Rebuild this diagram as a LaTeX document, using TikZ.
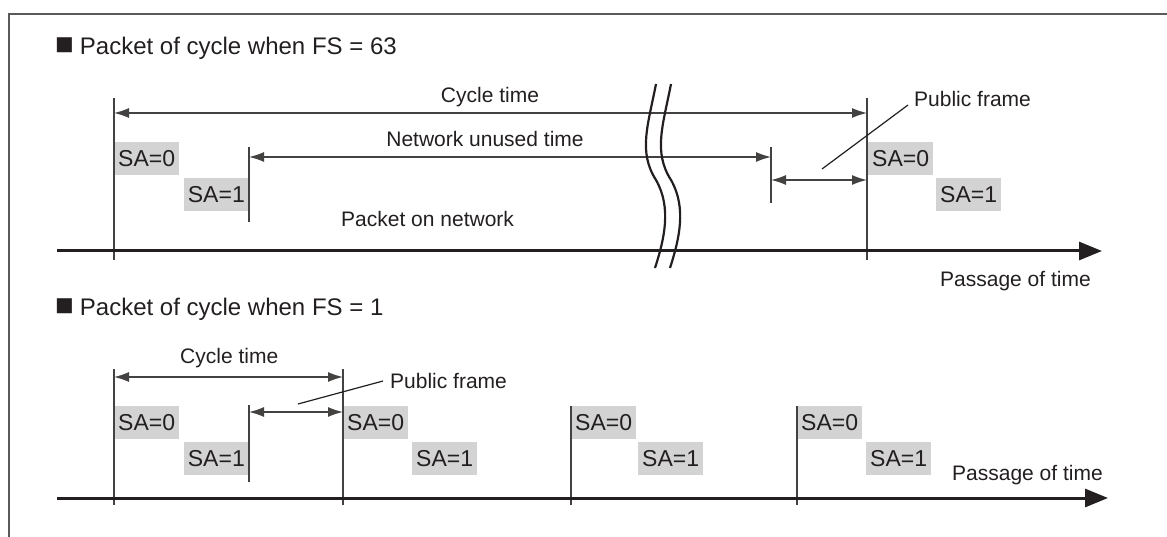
\documentclass[tikz,border=0pt]{standalone}
\usepackage{fontspec}
\setmainfont{Liberation Sans}
\usetikzlibrary{arrows.meta}
\definecolor{ink}{HTML}{231F20}
\definecolor{boxgray}{HTML}{D3D3D3}
\definecolor{framegray}{HTML}{5A5A5A}
\newcommand{\hsq}{{\fontsize{31}{28}\selectfont ■}\kern6pt}
\begin{document}
\begin{tikzpicture}[x=1pt,y=-1pt,
  lbl/.style={font=\fontsize{21}{25}\selectfont, text=ink, inner sep=0pt},
  head/.style={font=\fontsize{24}{28}\selectfont, text=ink, inner sep=0pt, anchor=base west},
  sabox/.style={fill=boxgray, font=\fontsize{23}{27}\selectfont, text=ink, inner xsep=4pt, inner ysep=0pt, minimum height=33pt},
  tick/.style={draw=ink!85, line width=1.3pt},
  dimline/.style={draw=ink!85, line width=1.3pt, {Latex[length=15pt,width=10pt]}-{Latex[length=15pt,width=10pt]}},
  leader/.style={draw=ink, line width=1.2pt},
  axis/.style={draw=ink, line width=3pt, -{Triangle[length=23pt,width=18pt]}},
  brk/.style={draw=ink, line width=2.2pt},
]
\useasboundingbox (0,0) rectangle (1167,537);
% frame
\draw[framegray, line width=1.5pt] (9,537) -- (9,14) -- (1167,14);

% ===== top section (FS = 63) =====
\node[head] (h1) at (55,55) {\hsq Packet of cycle when FS = 63};

\node[sabox, anchor=north west] (a0) at (114,142) {SA=0};
\node[sabox, anchor=north east] (a1) at (249,178) {SA=1};
\node[sabox, anchor=north west] (b0) at (868,142) {SA=0};
\node[sabox, anchor=north west] (b1) at (936,178) {SA=1};

\coordinate (t0u) at (114,98);  \coordinate (t0d) at (114,260);
\coordinate (t1u) at (867,98);  \coordinate (t1d) at (867,260);
\coordinate (n0u) at (249,147); \coordinate (n0d) at (249,222);
\coordinate (n1u) at (771,147); \coordinate (n1d) at (771,203);
\draw[tick] (t0u) -- (t0d);
\draw[tick] (t1u) -- (t1d);
\draw[tick] (n0u) -- (n0d);
\draw[tick] (n1u) -- (n1d);

\coordinate (c0) at (114,113); \coordinate (c1) at (867,113);
\coordinate (u0) at (249,157); \coordinate (u1) at (771,157);
\coordinate (p0) at (771,180); \coordinate (p1) at (867,180);
\draw[dimline] (c0) -- (c1);
\draw[dimline] (u0) -- (u1);
\draw[dimline] (p0) -- (p1);

\node[lbl, anchor=base] (ct1) at (490,103) {Cycle time};
\node[lbl, anchor=base] (nu) at (485,147) {Network unused time};
\node[lbl, anchor=base west] (pf1) at (914,107) {Public frame};
\node[lbl, anchor=base west] (pon) at (341,227) {Packet on network};
\node[lbl, anchor=base west] (pt1) at (940,287) {Passage of time};

\coordinate (l0) at (822,169); \coordinate (l1) at (908,105);
\draw[leader] (l0) -- (l1);

\coordinate (ax0) at (57,251); \coordinate (ax1) at (1102,251);
\draw[axis] (ax0) -- (ax1);

% break marks
\draw[brk] (656,84) .. controls (648,125) and (638,152) .. (656,180) .. controls (672,208) and (664,240) .. (655,268);
\draw[brk] (671,84) .. controls (663,125) and (653,152) .. (671,180) .. controls (687,208) and (679,240) .. (670,268);

% ===== bottom section (FS = 1) =====
\node[head] (h2) at (55,316) {\hsq Packet of cycle when FS = 1};

\node[sabox, anchor=north west] (d0) at (114,406) {SA=0};
\node[sabox, anchor=north east] (d1) at (249,442) {SA=1};
\node[sabox, anchor=north west] (e0) at (343,406) {SA=0};
\node[sabox, anchor=north west] (e1) at (412,442) {SA=1};
\node[sabox, anchor=north west] (f0) at (571,406) {SA=0};
\node[sabox, anchor=north west] (f1) at (638,442) {SA=1};
\node[sabox, anchor=north west] (g0) at (797,406) {SA=0};
\node[sabox, anchor=north west] (g1) at (866,442) {SA=1};

\coordinate (v0u) at (114,369); \coordinate (v0d) at (114,505);
\coordinate (v1u) at (343,369); \coordinate (v1d) at (343,505);
\coordinate (v2u) at (571,406); \coordinate (v2d) at (571,505);
\coordinate (v3u) at (797,406); \coordinate (v3d) at (797,505);
\coordinate (v4u) at (249,405); \coordinate (v4d) at (249,482);
\draw[tick] (v0u) -- (v0d);
\draw[tick] (v1u) -- (v1d);
\draw[tick] (v2u) -- (v2d);
\draw[tick] (v3u) -- (v3d);
\draw[tick] (v4u) -- (v4d);

\coordinate (cc0) at (114,377); \coordinate (cc1) at (343,377);
\coordinate (pp0) at (249,412); \coordinate (pp1) at (343,412);
\draw[dimline] (cc0) -- (cc1);
\draw[dimline] (pp0) -- (pp1);

\node[lbl, anchor=base west] (ct2) at (180,363) {Cycle time};
\node[lbl, anchor=base west] (pf2) at (390,388) {Public frame};
\node[lbl, anchor=base west] (pt2) at (952,480) {Passage of time};

\coordinate (m0) at (298,404); \coordinate (m1) at (383,381);
\draw[leader] (m0) -- (m1);

\coordinate (bx0) at (57,498); \coordinate (bx1) at (1108,498);
\draw[axis] (bx0) -- (bx1);
\end{tikzpicture}
\end{document}
